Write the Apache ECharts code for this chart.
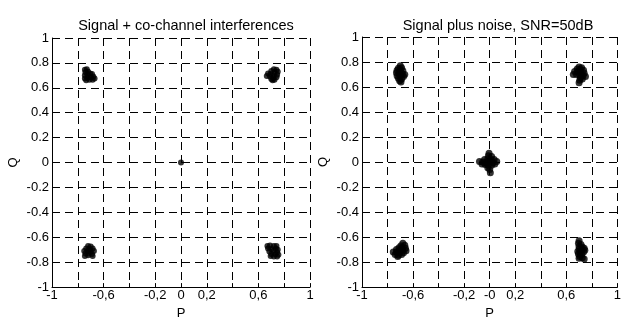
<!DOCTYPE html>
<html>
<head>
<meta charset="utf-8">
<script src="https://cdn.jsdelivr.net/npm/echarts@6/dist/echarts.min.js"></script>
<style>
  html, body { margin: 0; padding: 0; background: #fff; }
  #chart { width: 624px; height: 325px; }
</style>
</head>
<body>
<div id="chart"></div>
<script>
// ===== data =====
const titles = ['Signal + co-channel interferences', 'Signal plus noise, SNR=50dB']

// tick labels (index = tick from -1 to 1 step 0.2)
const yTickLabels = ['-1', '-0.8', '-0.6', '-0.4', '-0.2', '0', '0.2', '0.4', '0.6', '0.8', '1']
const xTickLabelsLeft = ['-1', '', '-0,6', '', '-0,2', '0', '0,2', '', '0,6', '', '1']
const xTickLabelsRight = ['-1', '', '-0,6', '', '-0,2', '-0', '0,2', '', '0,6', '', '1']

// left panel: signal + co-channel interferences
const leftTL = [[-0.745,0.745],[-0.73,0.75],[-0.74,0.725],[-0.72,0.73],[-0.745,0.70],[-0.725,0.705],[-0.705,0.715],[-0.69,0.71],[-0.745,0.675],[-0.725,0.68],[-0.70,0.685],[-0.68,0.69],[-0.67,0.675],[-0.735,0.66],[-0.71,0.665],[-0.685,0.665]]
const leftTR = [[0.72,0.75],[0.74,0.745],[0.70,0.735],[0.725,0.725],[0.75,0.73],[0.675,0.715],[0.695,0.71],[0.72,0.70],[0.745,0.705],[0.665,0.695],[0.69,0.69],[0.715,0.68],[0.74,0.685],[0.70,0.67],[0.725,0.665],[0.71,0.66]]
const leftBL = [[-0.72,-0.67],[-0.70,-0.675],[-0.735,-0.69],[-0.71,-0.695],[-0.685,-0.69],[-0.75,-0.71],[-0.725,-0.71],[-0.70,-0.715],[-0.675,-0.71],[-0.74,-0.73],[-0.715,-0.73],[-0.69,-0.735],[-0.745,-0.75],[-0.72,-0.745],[-0.685,-0.75]]
const leftBR = [[0.67,-0.67],[0.69,-0.665],[0.72,-0.67],[0.74,-0.67],[0.675,-0.69],[0.70,-0.695],[0.735,-0.69],[0.75,-0.70],[0.685,-0.715],[0.715,-0.71],[0.745,-0.72],[0.70,-0.735],[0.73,-0.735],[0.755,-0.74],[0.695,-0.75],[0.72,-0.755],[0.745,-0.755]]
const leftC = [[0, 0]]

// right panel: signal plus noise
const rightTL = [[-0.70,0.77],[-0.69,0.755],[-0.715,0.75],[-0.725,0.735],[-0.70,0.735],[-0.68,0.73],[-0.73,0.715],[-0.71,0.71],[-0.685,0.705],[-0.665,0.70],[-0.725,0.69],[-0.70,0.69],[-0.675,0.685],[-0.715,0.67],[-0.69,0.665],[-0.705,0.65],[-0.695,0.64]]
const rightTR = [[0.70,0.76],[0.72,0.755],[0.685,0.745],[0.71,0.74],[0.735,0.735],[0.665,0.725],[0.69,0.72],[0.715,0.715],[0.74,0.71],[0.655,0.70],[0.68,0.70],[0.705,0.695],[0.73,0.69],[0.75,0.685],[0.71,0.675],[0.725,0.665],[0.705,0.655],[0.70,0.635]]
const rightC = [[-0.005,0.07],[-0.01,0.05],[0.015,0.045],[-0.04,0.02],[-0.015,0.025],[0.01,0.02],[0.035,0.02],[-0.08,0.005],[-0.055,0.0],[-0.03,-0.005],[0.0,0.0],[0.025,-0.005],[0.055,0.005],[-0.06,-0.015],[-0.035,-0.02],[-0.01,-0.025],[0.015,-0.025],[0.04,-0.015],[-0.015,-0.045],[0.0,-0.06],[0.005,-0.085]]
const rightBL = [[-0.68,-0.65],[-0.665,-0.665],[-0.695,-0.67],[-0.71,-0.685],[-0.685,-0.685],[-0.66,-0.69],[-0.73,-0.70],[-0.705,-0.705],[-0.68,-0.705],[-0.655,-0.71],[-0.755,-0.72],[-0.73,-0.72],[-0.705,-0.725],[-0.675,-0.725],[-0.74,-0.74],[-0.715,-0.745],[-0.69,-0.74],[-0.72,-0.755]]
const rightBR = [[0.70,-0.63],[0.695,-0.65],[0.715,-0.66],[0.70,-0.675],[0.725,-0.68],[0.74,-0.69],[0.70,-0.695],[0.72,-0.70],[0.745,-0.705],[0.69,-0.715],[0.71,-0.72],[0.735,-0.72],[0.695,-0.735],[0.72,-0.74],[0.705,-0.755],[0.725,-0.765],[0.74,-0.775],[0.70,-0.77]]

const leftPoints = [].concat(leftTL, leftTR, leftBL, leftBR, leftC)
const rightPoints = [].concat(rightTL, rightTR, rightC, rightBL, rightBR)

// ===== chart =====
const FONT = '"Liberation Sans", Arial, sans-serif'
const gridDash = { color: '#000', width: 1, type: [8, 5] }

function xAxisFor(gridIndex, labels, gap) {
  return {
    gridIndex, type: 'value', min: -1, max: 1, interval: 0.2,
    name: 'P', nameLocation: 'middle', nameGap: gap,
    nameTextStyle: { color: '#000', fontSize: 13, fontFamily: FONT },
    axisLine: { onZero: false, lineStyle: { color: '#000', width: 1 } },
    axisTick: { inside: true, length: 4, lineStyle: { color: '#000' } },
    axisLabel: {
      color: '#000', fontSize: 13, fontFamily: FONT, margin: 2,
      formatter: (v, i) => labels[Math.round((v + 1) / 0.2)]
    },
    splitLine: { show: true, showMinLine: false, lineStyle: gridDash }
  }
}

function yAxisFor(gridIndex) {
  return {
    gridIndex, type: 'value', min: -1, max: 1, interval: 0.2,
    name: 'Q', nameLocation: 'middle', nameGap: 32, nameRotate: 90,
    nameTextStyle: { color: '#000', fontSize: 13, fontFamily: FONT },
    axisLine: { onZero: false, lineStyle: { color: '#000', width: 1 } },
    axisTick: { inside: true, length: 4, lineStyle: { color: '#000' } },
    axisLabel: {
      color: '#000', fontSize: 13, fontFamily: FONT, margin: 3,
      formatter: v => yTickLabels[Math.round((v + 1) / 0.2)]
    },
    splitLine: { show: true, showMinLine: false, lineStyle: gridDash }
  }
}

const chart = echarts.init(document.getElementById('chart'), null, { renderer: 'canvas' })
chart.setOption({
  animation: false,
  backgroundColor: '#fff',
  title: [
    { text: titles[0], left: 181, top: 13, textAlign: 'center',
      textStyle: { fontSize: 14.5, fontWeight: 'normal', color: '#000', fontFamily: FONT } },
    { text: titles[1], left: 493, top: 13, textAlign: 'center',
      textStyle: { fontSize: 14.5, fontWeight: 'normal', color: '#000', fontFamily: FONT } }
  ],
  grid: [
    { left: 52, top: 38, width: 258, height: 256 },
    { left: 362, top: 37, width: 260, height: 260 }
  ],
  xAxis: [xAxisFor(0, xTickLabelsLeft, 17), xAxisFor(1, xTickLabelsRight, 18)],
  yAxis: [yAxisFor(0), yAxisFor(1)],
  series: [
    { type: 'scatter', xAxisIndex: 0, yAxisIndex: 0, data: leftPoints,
      symbol: 'circle', symbolSize: 6, itemStyle: { color: '#000' } },
    { type: 'scatter', xAxisIndex: 1, yAxisIndex: 1, data: rightPoints,
      symbol: 'circle', symbolSize: 7, itemStyle: { color: '#000' } }
  ]
})
</script>
</body>
</html>
